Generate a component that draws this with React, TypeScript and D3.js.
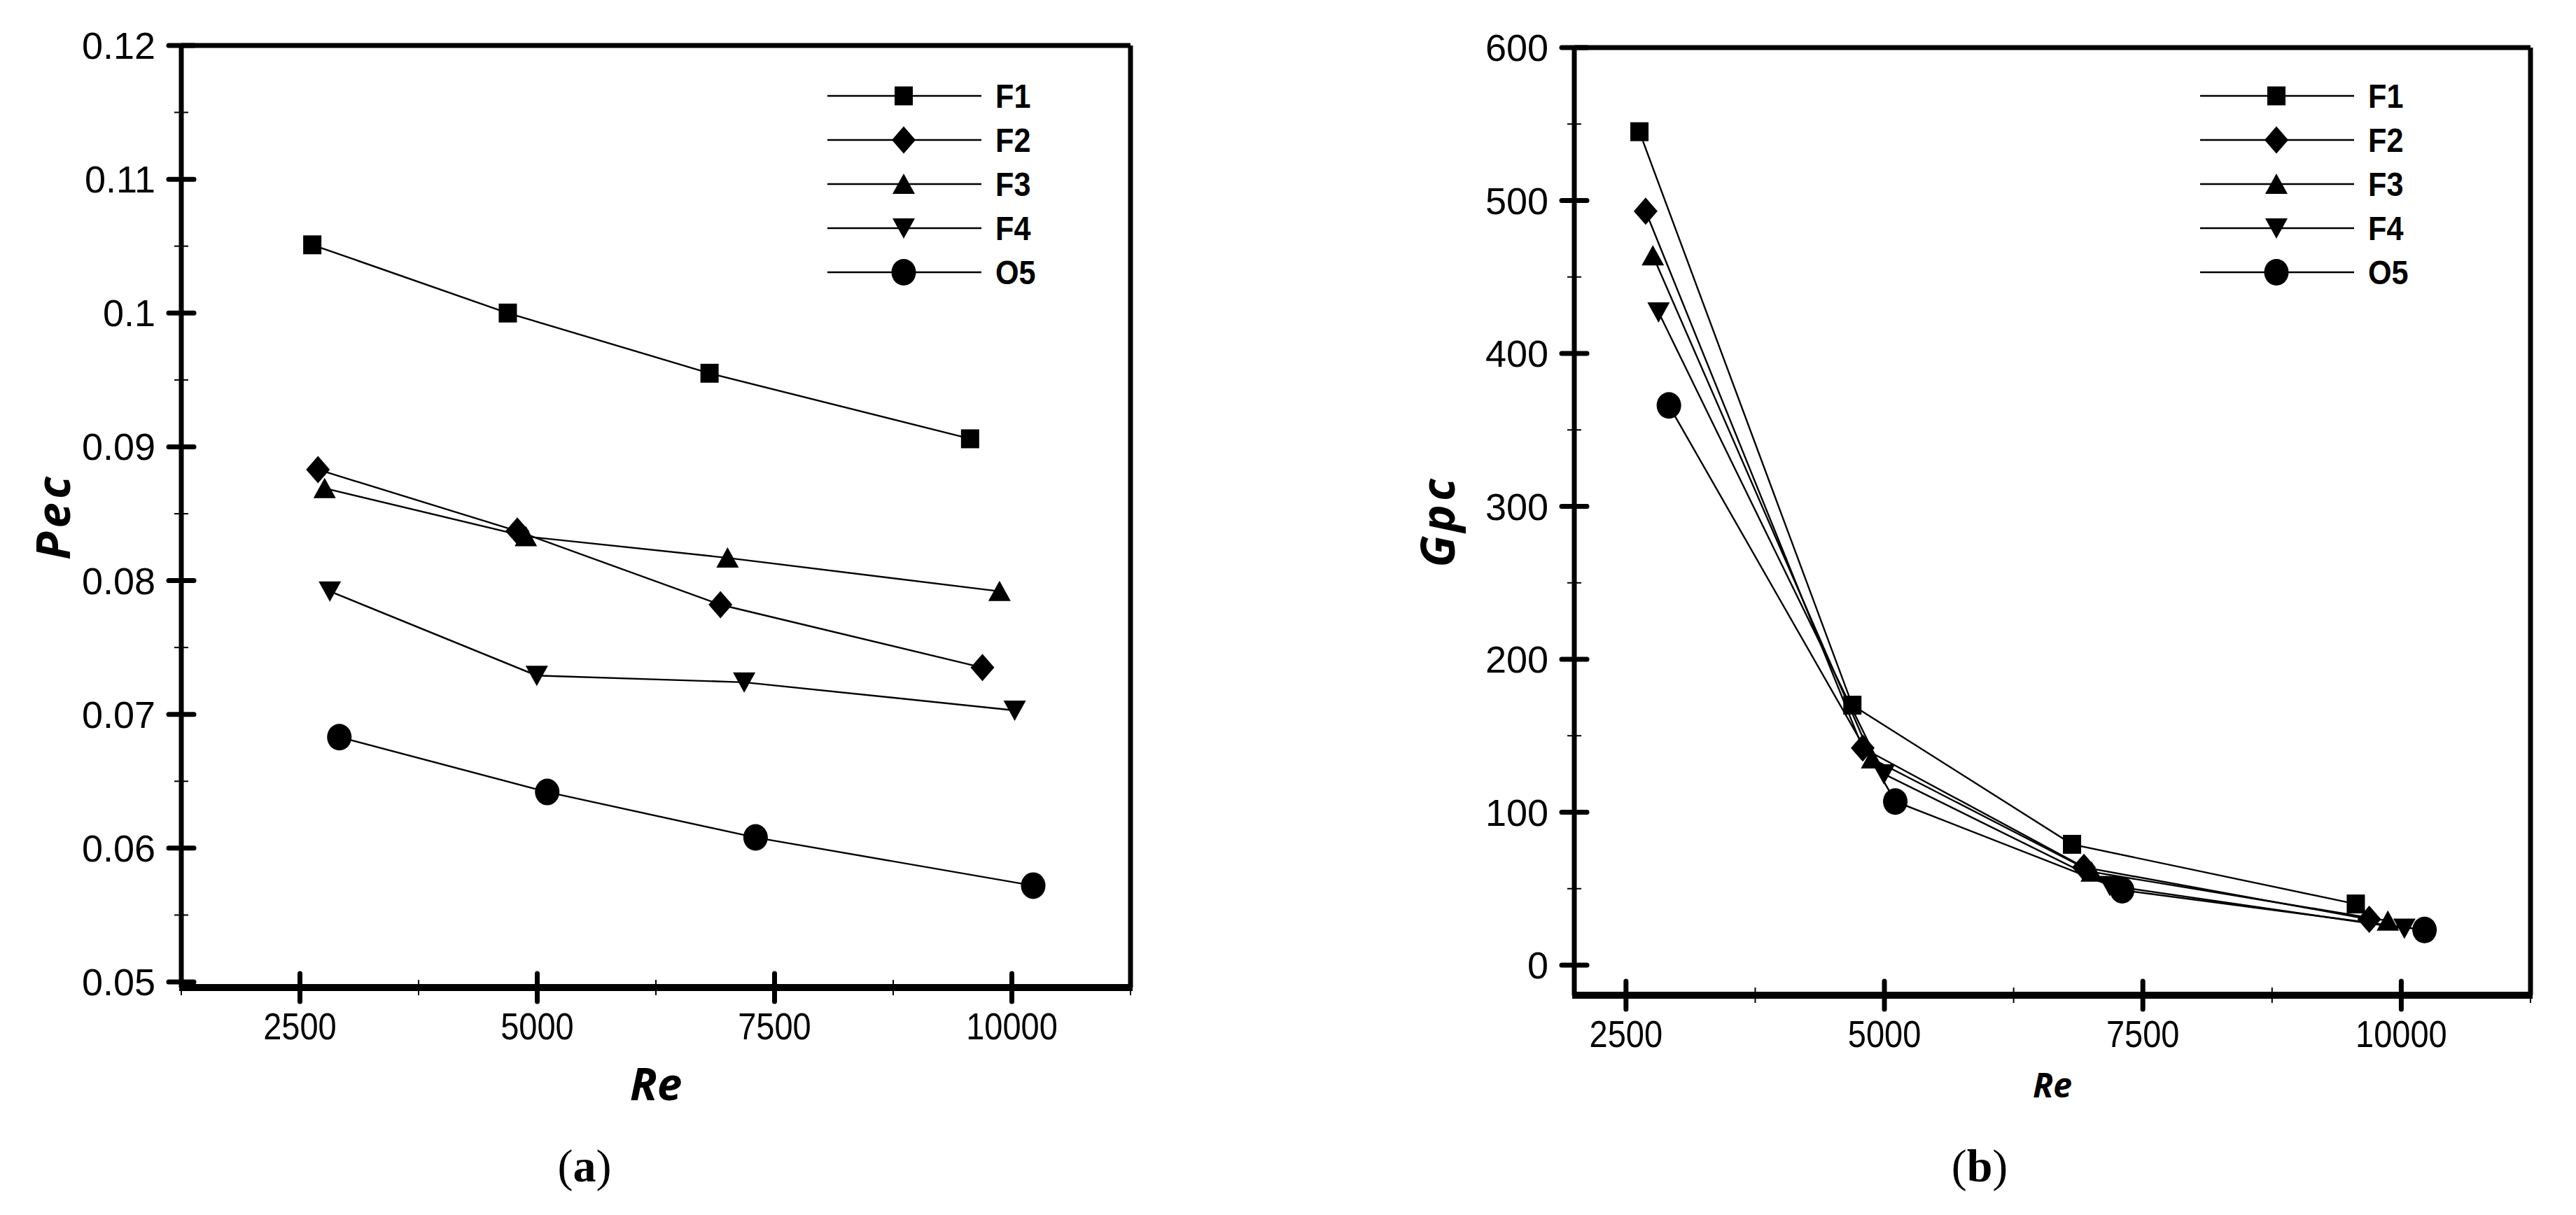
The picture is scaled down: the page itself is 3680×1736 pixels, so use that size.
import React from 'react'
import * as d3 from 'd3'

// series + Re values (each fluid has its own Re points)
const seriesNames = ['F1', 'F2', 'F3', 'F4', 'O5']
const markerTypes = ['square', 'diamond', 'triangle', 'triangleDown', 'circle']
const reF1 = [2630, 4690, 6815, 9560]
const reF2 = [2690, 4790, 6930, 9690]
const reF3 = [2760, 4880, 7005, 9870]
const reF4 = [2815, 4995, 7180, 10030]
const reO5 = [2915, 5105, 7300, 10225]

// panel (a) Pec
const pecF1 = [0.1051, 0.1, 0.0955, 0.0906]
const pecF2 = [0.0883, 0.0837, 0.0782, 0.0735]
const pecF3 = [0.0869, 0.0833, 0.0817, 0.0792]
const pecF4 = [0.0792, 0.0729, 0.0724, 0.0703]
const pecO5 = [0.0683, 0.0642, 0.0608, 0.0572]

// panel (b) Gpc
const gpcF1 = [545, 170, 79, 40]
const gpcF2 = [493, 142, 64, 30]
const gpcF3 = [464, 135, 61, 29]
const gpcF4 = [427, 125, 52, 24]
const gpcO5 = [366, 107, 49, 23]

const reTicks = [2500, 5000, 7500, 10000]
const reMinorTicks = [1250, 3750, 6250, 8750, 11250]
const pecTicks = [0.05, 0.06, 0.07, 0.08, 0.09, 0.1, 0.11, 0.12]
const pecMinorTicks = [0.055, 0.065, 0.075, 0.085, 0.095, 0.105, 0.115]
const gpcTicks = [0, 100, 200, 300, 400, 500, 600]
const gpcMinorTicks = [50, 150, 250, 350, 450, 550]

const reSeries = [reF1, reF2, reF3, reF4, reO5]
const pecSeries = [pecF1, pecF2, pecF3, pecF4, pecO5]
const gpcSeries = [gpcF1, gpcF2, gpcF3, gpcF4, gpcO5]

const tickFont = 'Liberation Sans, Arial, sans-serif'
const titleFont = 'Open Sans, sans-serif'

// marker shapes, a bit taller than wide like the original
const markerPath = (type, cx, cy) => {
	const p = d3.path()
	if (type === 'square') {
		p.rect(cx - 13, cy - 13.5, 26, 27)
	} else if (type === 'diamond') {
		p.moveTo(cx, cy - 19.5); p.lineTo(cx + 17, cy); p.lineTo(cx, cy + 19.5); p.lineTo(cx - 17, cy); p.closePath()
	} else if (type === 'triangle') {
		p.moveTo(cx, cy - 15); p.lineTo(cx + 16, cy + 14); p.lineTo(cx - 16, cy + 14); p.closePath()
	} else {
		p.moveTo(cx - 16, cy - 14); p.lineTo(cx + 16, cy - 14); p.lineTo(cx, cy + 15); p.closePath()
	}
	return p.toString()
}

const Marker = ({ type, x, y }) =>
	type === 'circle'
		? <ellipse cx={x} cy={y} rx={17.5} ry={19} fill="#000" />
		: <path d={markerPath(type, x, y)} fill="#000" />

const Panel = ({ box, xDomain, yDomain, yRange, ySeries, yTicks, yMinor, yFormat, yTitle, titleX, reSize, reY, legendX, label, labelX }) => {
	const x = d3.scaleLinear().domain(xDomain).range([box.left, box.right])
	const y = d3.scaleLinear().domain(yDomain).range(yRange)
	const line = d3.line().x(d => x(d[0])).y(d => y(d[1]))
	const cy = (box.top + box.bottom) / 2
	const legendRows = [137, 200, 263, 326, 389]

	return (
		<g>
			{/* series lines */}
			{seriesNames.map((name, i) => (
				<path key={name} d={line(reSeries[i].map((r, k) => [r, ySeries[i][k]]))} fill="none" stroke="#000" strokeWidth={2.4} />
			))}
			{seriesNames.map((name, i) =>
				reSeries[i].map((r, k) => <Marker key={name + k} type={markerTypes[i]} x={x(r)} y={y(ySeries[i][k])} />)
			)}

			{/* frame */}
			<line x1={box.left} x2={box.right} y1={box.top} y2={box.top} stroke="#000" strokeWidth={7} />
			<line x1={box.right} x2={box.right} y1={box.top} y2={box.bottom} stroke="#000" strokeWidth={7} />
			<line x1={box.left} x2={box.left} y1={box.top - 3} y2={box.bottom} stroke="#000" strokeWidth={7} />
			<line x1={box.left - 3} x2={box.right + 3} y1={box.bottom} y2={box.bottom} stroke="#000" strokeWidth={10} />

			{/* y ticks */}
			{yMinor.map(t => (
				<line key={'ym' + t} x1={box.left - 10} x2={box.left + 10} y1={y(t)} y2={y(t)} stroke="#000" strokeWidth={2} />
			))}
			{yTicks.map(t => (
				<g key={'y' + t}>
					<line x1={box.left - 18} x2={box.left + 18} y1={y(t)} y2={y(t)} stroke="#000" strokeWidth={7} strokeLinecap="round" />
					<text x={box.left - 37} y={y(t) + 19} textAnchor="end" fontFamily={tickFont} fontSize={54}>{yFormat(t)}</text>
				</g>
			))}

			{/* x ticks */}
			{reMinorTicks.filter(t => t >= xDomain[0]).map(t => (
				<line key={'xm' + t} x1={x(t)} x2={x(t)} y1={box.bottom - 11} y2={box.bottom + 11} stroke="#000" strokeWidth={2} />
			))}
			{reTicks.map(t => (
				<g key={'x' + t}>
					<line x1={x(t)} x2={x(t)} y1={box.bottom - 20} y2={box.bottom + 20} stroke="#000" strokeWidth={7} strokeLinecap="round" />
					<text transform={`translate(${x(t)},${box.bottom + 74}) scale(0.87,1)`} textAnchor="middle" fontFamily={tickFont} fontSize={54}>{t}</text>
				</g>
			))}

			{/* axis titles */}
			<text transform={`translate(${titleX},${cy}) rotate(-90)`} textAnchor="middle" fontFamily={titleFont} fontWeight="bold" fontStyle="italic" fontSize={66} letterSpacing={5}>{yTitle}</text>
			<text x={(box.left + box.right) / 2} y={reY} textAnchor="middle" fontFamily={titleFont} fontWeight="bold" fontStyle="italic" fontSize={reSize}>Re</text>

			{/* legend */}
			{seriesNames.map((name, i) => (
				<g key={'lg' + name}>
					<line x1={legendX} x2={legendX + 220} y1={legendRows[i]} y2={legendRows[i]} stroke="#000" strokeWidth={2.4} />
					<Marker type={markerTypes[i]} x={legendX + 109} y={legendRows[i]} />
					<text transform={`translate(${legendX + 240},${legendRows[i] + 17}) scale(0.9,1)`} fontFamily={tickFont} fontWeight="bold" fontSize={48}>{name}</text>
				</g>
			))}

			{/* panel label */}
			<text x={labelX} y={1688} textAnchor="middle" fontFamily="Liberation Serif, serif" fontSize={66}>
				(<tspan fontWeight="bold">{label}</tspan>)
			</text>
		</g>
	)
}

const App = () => {
	return (
		<svg width={3680} height={1736} style={{ position: 'absolute', left: 0, top: 0, background: '#fff' }}>
			<rect width={3680} height={1736} fill="#fff" />
			<Panel
				box={{ left: 259, right: 1615, top: 65, bottom: 1411 }}
				xDomain={[1250, 11250]}
				yDomain={[0.05, 0.12]}
				yRange={[1403, 65]}
				ySeries={pecSeries}
				yTicks={pecTicks}
				yMinor={pecMinorTicks}
				yFormat={t => d3.format('')(+t.toFixed(2))}
				yTitle="Pec"
				titleX={100}
				reSize={64}
				reY={1572}
				legendX={1182}
				label="a"
				labelX={835}
			/>
			<Panel
				box={{ left: 2249, right: 3615, top: 68, bottom: 1422 }}
				xDomain={[2000, 11250]}
				yDomain={[0, 600]}
				yRange={[1379, 68]}
				ySeries={gpcSeries}
				yTicks={gpcTicks}
				yMinor={gpcMinorTicks}
				yFormat={t => String(t)}
				yTitle="Gpc"
				titleX={2078}
				reSize={48}
				reY={1568}
				legendX={3143}
				label="b"
				labelX={2828}
			/>
		</svg>
	)
}

export default App
